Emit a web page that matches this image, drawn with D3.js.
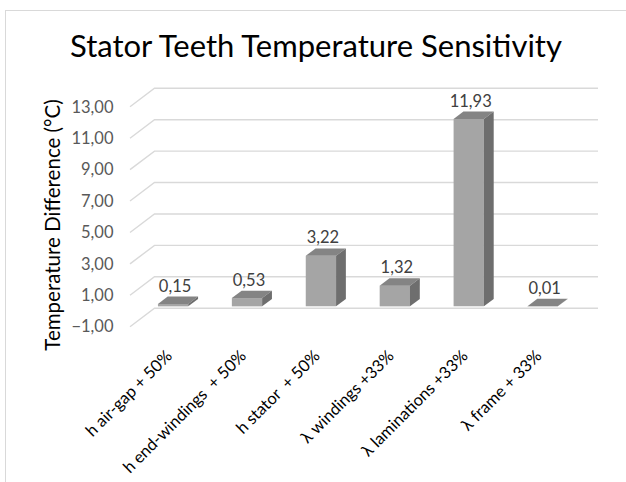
<!DOCTYPE html>
<html>
<head>
<meta charset="utf-8">
<script src="https://cdn.jsdelivr.net/npm/d3@7"></script>
<style>
  html, body { margin: 0; padding: 0; background: #fff; }
  svg { display: block; }
  text { white-space: pre; }
</style>
</head>
<body>
<svg id="chart" width="626" height="482"></svg>
<script>
// Sensitivity cases and the temperature rise each one gives (°C)
const categories = [
  "h air-gap + 50%",
  "h end-windings  + 50%",
  "h stator  + 50%",
  "λ windings +33%",
  "λ laminations +33%",
  "λ frame + 33%"
];
const values = [0.15, 0.53, 3.22, 1.32, 11.93, 0.01];
const yTicks = [-1, 1, 3, 5, 7, 9, 11, 13];
const titleText = "Stator Teeth Temperature Sensitivity";
const yTitleText = "Temperature Difference (°C)";

const svg = d3.select("#chart");
const FONT = "Lato, 'Open Sans', sans-serif";

// comma as decimal separator
const fmt = d3.formatLocale({ decimal: ",", thousands: ".", grouping: [3], currency: ["", ""] }).format(".2f");

// back wall of the plot box and the oblique depth offset (back -> front)
const wall = { left: 154.5, right: 598 };
const depth = { dx: -24.5, dy: 18.5 };
const fFront = 0.75, fBack = 0.35;   // depth position of column front / back faces

const y = d3.scaleLinear().domain([-1, 13]).range([308.2, 88.3]);
const x = d3.scaleBand().domain(categories).range([wall.left, wall.right]);
const barW = x.bandwidth() * 0.41;

// chart frame
svg.append("line").attr("x1", 5.5).attr("x2", 5.5).attr("y1", 10).attr("y2", 482)
  .attr("stroke", "#d9d9d9").attr("stroke-width", 1);
svg.append("line").attr("x1", 5).attr("x2", 626).attr("y1", 10.5).attr("y2", 10.5)
  .attr("stroke", "#d9d9d9").attr("stroke-width", 1);

// title
svg.append("text")
  .attr("x", 316).attr("y", 57)
  .attr("text-anchor", "middle")
  .attr("font-family", FONT).attr("font-size", 31).attr("fill", "#000")
  .text(titleText);

// gridlines: side wall diagonal + back wall horizontal
const grid = svg.append("g").attr("stroke", "#d9d9d9").attr("stroke-width", 1.4).attr("fill", "none");
grid.selectAll("path").data(yTicks).join("path")
  .attr("d", v => `M${wall.left + depth.dx},${y(v) + depth.dy}L${wall.left},${y(v)}L${wall.right},${y(v)}`);

// y tick labels at the front end of the side gridlines
svg.append("g").selectAll("text").data(yTicks).join("text")
  .attr("x", 113.5)
  .attr("y", v => y(v) + depth.dy)
  .attr("dy", "0.35em")
  .attr("text-anchor", "end")
  .attr("font-family", FONT).attr("font-size", 16.5).attr("fill", "#595959")
  .text(v => fmt(v));

// y axis title
svg.append("text")
  .attr("transform", "translate(53,225) rotate(-90)")
  .attr("dy", "0.35em")
  .attr("text-anchor", "middle")
  .attr("font-family", FONT).attr("font-size", 20.5).attr("fill", "#000")
  .text(yTitleText);

// 3D columns
const data = categories.map((c, i) => ({ c, v: values[i] }));
const geom = d => {
  const cx = x(d.c) + x.bandwidth() / 2;
  const fl = cx - barW / 2 + depth.dx * fFront, fr = fl + barW;
  const fy0 = y(0) + depth.dy * fFront, fy1 = y(d.v) + depth.dy * fFront;
  const bx = (fBack - fFront) * depth.dx, by = (fBack - fFront) * depth.dy;
  return { fl, fr, fy0, fy1, bx, by, cx: cx + depth.dx * fFront };
};

const bars = svg.append("g").selectAll("g").data(data).join("g");
bars.append("path").attr("fill", "#a5a5a5")
  .attr("d", d => { const g = geom(d); return `M${g.fl},${g.fy0}L${g.fr},${g.fy0}L${g.fr},${g.fy1}L${g.fl},${g.fy1}Z`; });
bars.append("path").attr("fill", "#848484")
  .attr("d", d => { const g = geom(d); return `M${g.fl},${g.fy1}L${g.fr},${g.fy1}L${g.fr + g.bx},${g.fy1 + g.by}L${g.fl + g.bx},${g.fy1 + g.by}Z`; });
bars.append("path").attr("fill", "#6e6e6e")
  .attr("d", d => { const g = geom(d); return `M${g.fr},${g.fy0}L${g.fr},${g.fy1}L${g.fr + g.bx},${g.fy1 + g.by}L${g.fr + g.bx},${g.fy0 + g.by}Z`; });

// value labels above the columns
bars.append("text")
  .attr("x", d => geom(d).cx + 2)
  .attr("y", d => { const g = geom(d); return g.fy1 + g.by - 5; })
  .attr("text-anchor", "middle")
  .attr("font-family", FONT).attr("font-size", 16.5).attr("fill", "#404040")
  .text(d => fmt(d.v));

// category labels, rotated
svg.append("g").selectAll("text").data(categories).join("text")
  .attr("transform", c => `translate(${x(c) + x.bandwidth() / 2 + depth.dx * fFront},357) rotate(-45)`)
  .attr("text-anchor", "end")
  .attr("font-family", FONT).attr("font-size", 16.5).attr("fill", "#000")
  .text(c => c);
</script>
</body>
</html>
